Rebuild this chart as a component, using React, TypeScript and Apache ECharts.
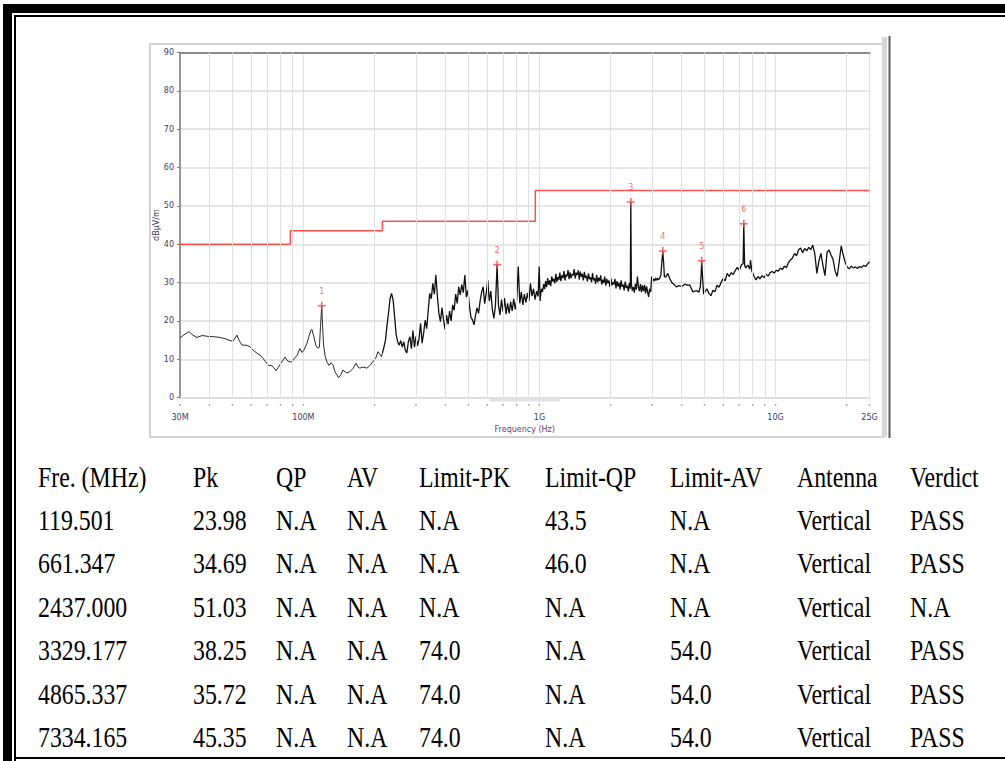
import React, { useEffect, useRef } from "react";
import * as echarts from "echarts";

// ---------- data ----------
// measured trace, [frequency in MHz, level in dBuV/m]
const trace30to216M: [number, number][] = [
  [30, 15.6], [31.2, 16.4], [32.75, 17.2], [34.05, 16.3], [35.4, 15.7], [37.18, 16.2], [39.42, 16.0],
  [41.79, 15.9], [44.31, 15.7], [46.53, 15.4], [48.37, 15.0], [50.3, 14.7], [52.3, 16.3], [53.33, 15.0],
  [54.91, 13.7], [57.09, 13.7], [59.37, 13.3], [61.13, 12.4], [63.56, 11.6], [66.09, 10.9], [68.72, 9.6],
  [70.76, 8.5], [73.57, 8.3], [75.02, 7.8], [76.49, 7.0], [78.0, 7.8], [79.54, 8.6], [81.9, 9.8],
  [83.52, 10.6], [85.15, 9.8], [86.83, 9.4], [89.42, 9.3], [91.18, 10.1], [93.88, 11.0], [96.67, 12.8],
  [98.57, 11.8], [100.5, 12.4], [103.5, 14.2], [105.5, 16.0], [107.6, 17.6], [108.7, 17.8], [110.8, 15.8],
  [113.0, 13.6], [115.2, 12.9], [116.9, 13.2], [118.1, 18.5], [119.501, 23.98], [120.5, 19.0], [121.6, 14.0],
  [123.4, 11.0], [125.8, 9.3], [128.3, 8.4], [130.8, 9.1], [133.3, 8.6], [136.0, 6.8], [138.6, 6.0],
  [140.7, 5.2], [144.2, 6.0], [147.0, 7.2], [149.9, 6.8], [152.9, 6.4], [157.4, 6.8], [162.1, 7.6],
  [166.9, 9.0], [170.2, 8.0], [173.5, 7.7], [178.7, 8.0], [185.7, 7.7], [191.3, 8.4], [197.0, 9.4],
  [202.8, 10.4], [206.8, 12.0], [210.9, 11.3], [214.0, 10.7], [216, 11.6],
];
const trace216Mto1G: [number, number][] = [
  [216, 11.6], [219.3, 13.2], [222.6, 15.0], [225.9, 18.8], [229.3, 22.0], [232.7, 25.8], [236.2, 27.2],
  [239.8, 25.5], [243.4, 21.0], [247.0, 16.5], [250.7, 14.6], [254.5, 13.7], [258.3, 14.9], [262.2, 13.2],
  [266.1, 14.6], [270.1, 12.4], [274.2, 11.7], [278.3, 14.6], [282.5, 15.9], [286.7, 12.8], [291.0, 17.5],
  [295.4, 13.2], [299.8, 16.0], [304.3, 13.5], [308.9, 15.4], [313.5, 19.4], [318.2, 14.2], [323.0, 16.8],
  [327.8, 20.2], [332.7, 18.0], [337.7, 22.6], [342.8, 27.2], [348.0, 25.8], [353.2, 29.8], [358.5, 27.0],
  [363.9, 32.0], [369.3, 26.5], [374.8, 22.0], [380.5, 19.8], [386.2, 23.5], [392.0, 20.4], [397.9, 17.8],
  [403.8, 21.5], [409.9, 19.2], [416.0, 22.6], [422.2, 20.0], [428.6, 24.2], [435.0, 22.8], [441.5, 27.0],
  [448.1, 24.6], [454.9, 28.9], [461.7, 26.8], [468.6, 29.5], [475.6, 27.4], [482.8, 32.0], [490.0, 26.2],
  [497.4, 28.0], [504.8, 24.0], [512.4, 21.0], [520.1, 20.3], [527.9, 19.0], [535.8, 21.5], [543.9, 23.4],
  [552.0, 22.0], [560.3, 25.2], [568.7, 27.5], [577.3, 28.9], [585.9, 24.5], [594.7, 27.2], [603.6, 30.7],
  [612.7, 25.2], [621.9, 27.8], [631.2, 23.0], [640.7, 20.7], [650.3, 23.8], [661.347, 34.69], [670.0, 24.2],
  [680.0, 21.6], [690.2, 25.6], [700.6, 22.4], [711.1, 26.0], [721.7, 21.8], [732.5, 24.6], [743.5, 22.0],
  [754.7, 25.0], [766.0, 22.6], [777.5, 25.8], [789.2, 23.0], [801.0, 25.5], [813.0, 34.2], [825.2, 24.6],
  [837.6, 27.6], [850.2, 24.2], [862.9, 27.0], [875.9, 24.8], [889.0, 27.3], [902.3, 25.2], [915.9, 29.8],
  [929.6, 26.5], [943.6, 28.4], [957.7, 25.6], [972.1, 27.8], [986.7, 26.4], [997.0, 34.2], [1006.7, 25.2],
];
const trace1Gto3G: [number, number][] = [
  [1010, 26.5], [1020, 28.4], [1030, 27.6], [1041, 29.6], [1051, 28.3], [1062, 30.4], [1072, 28.8],
  [1083, 31.2], [1094, 29.4], [1105, 30.6], [1116, 29.1], [1127, 31.6], [1138, 30.3], [1149, 31.0],
  [1161, 29.8], [1173, 32.3], [1184, 30.2], [1196, 31.5], [1208, 30.7], [1220, 32.6], [1232, 30.4],
  [1245, 31.9], [1257, 31.2], [1270, 33.0], [1282, 30.6], [1295, 32.1], [1308, 31.6], [1321, 33.3],
  [1335, 30.9], [1348, 32.7], [1361, 31.2], [1375, 32.2], [1389, 31.9], [1403, 33.5], [1417, 31.1],
  [1431, 32.6], [1445, 32.0], [1460, 33.2], [1474, 30.8], [1489, 32.9], [1504, 31.5], [1519, 32.3],
  [1534, 30.6], [1549, 32.8], [1565, 31.2], [1580, 31.8], [1596, 30.3], [1612, 32.4], [1628, 30.9],
  [1645, 31.4], [1661, 30.1], [1678, 32.5], [1694, 30.6], [1711, 31.2], [1729, 29.7], [1746, 32.0],
  [1763, 30.1], [1781, 31.3], [1799, 30.4], [1817, 31.9], [1835, 29.5], [1853, 30.8], [1872, 29.9],
  [1890, 31.6], [1909, 29.2], [1928, 31.0], [1948, 29.8], [1967, 30.6], [1987, 28.9], [2007, 31.1],
  [2027, 29.3], [2047, 30.1], [2068, 29.5], [2088, 31.0], [2109, 28.5], [2130, 30.4], [2152, 29.0],
  [2173, 30.0], [2195, 28.2], [2217, 30.6], [2239, 28.9], [2261, 29.5], [2284, 28.0], [2307, 30.3],
  [2330, 28.6], [2353, 29.2], [2377, 27.7], [2400, 29.9], [2424, 28.4], [2437, 51.03], [2450, 29.6],
  [2474, 27.9], [2498, 28.8], [2523, 27.4], [2548, 29.7], [2573, 28.2], [2599, 31.6], [2625, 28.9],
  [2651, 27.8], [2678, 29.6], [2704, 27.5], [2731, 29.3], [2759, 27.8], [2786, 29.4], [2814, 27.2],
  [2842, 29.0], [2871, 27.6], [2899, 26.3], [2928, 28.4], [2958, 27.6], [2987, 31.6],
];
const trace3Gto25G: [number, number][] = [
  [3017, 30.3], [3047, 31.0], [3078, 30.4], [3109, 31.2], [3140, 30.6], [3171, 31.1], [3203, 30.8],
  [3235, 31.3], [3267, 32.0], [3300, 35.5], [3329.177, 38.25], [3356.9, 35.0], [3382.8, 31.5], [3429.3, 31.5],
  [3496.9, 32.4], [3565.9, 31.0], [3636.1, 30.0], [3707.8, 29.6], [3799.1, 28.9], [3892.9, 29.2], [4008.5, 29.0],
  [4127.7, 29.6], [4249.9, 29.3], [4333.7, 29.4], [4397.4, 28.5], [4462.4, 27.6], [4550.4, 27.8], [4639.7, 27.9],
  [4731.1, 27.5], [4801.0, 29.0], [4838.3, 32.0], [4865.337, 35.72], [4910.0, 31.0], [4958.2, 27.0],
  [5016, 27.5], [5116, 28.4], [5219, 27.2], [5323, 26.6], [5430, 28.0], [5538, 27.6], [5649, 29.3],
  [5762, 28.8], [5877, 30.0], [5995, 31.1], [6115, 30.5], [6237, 32.4], [6362, 31.6], [6489, 32.6],
  [6619, 32.1], [6751, 33.2], [6886, 34.0], [7024, 33.2], [7164, 34.6], [7287, 35.0], [7334.165, 45.35],
  [7395, 34.5], [7480, 33.8], [7630, 34.6], [7782, 33.5], [7830, 35.9], [7938, 33.0], [8097, 31.8],
  [8259, 30.7], [8424, 31.6], [8592, 31.0], [8764, 31.8], [8939, 31.3], [9118, 32.2], [9300, 31.7],
  [9486, 32.6], [9676, 32.9], [9870, 32.5], [10067, 33.2], [10269, 33.0], [10474, 33.8], [10684, 33.4],
  [10897, 34.3], [11115, 33.9], [11337, 35.2], [11564, 35.9], [11795, 36.4], [12031, 37.6], [12272, 37.0],
  [12517, 38.6], [12768, 39.0], [13023, 37.8], [13283, 38.9], [13549, 38.3], [13820, 39.2], [14097, 38.6],
  [14379, 39.8], [14666, 37.5], [14960, 32.4], [15259, 35.6], [15564, 37.6], [15875, 34.5], [16193, 31.8],
  [16517, 37.9], [16847, 38.5], [17184, 37.2], [17528, 36.0], [17878, 33.0], [18236, 31.6], [18601, 35.4],
  [18973, 39.6], [19352, 37.2], [19739, 35.2], [20134, 34.0], [20537, 33.6], [20947, 34.3], [21366, 33.8],
  [21794, 34.1], [22230, 33.7], [22674, 34.2], [23128, 33.9], [23590, 34.5], [24062, 34.2], [24543, 34.9],
  [25000, 35.5],
];

const limitFreq = [30, 88, 88, 216, 216, 960, 960, 25000];
const limitLevel = [40, 40, 43.5, 43.5, 46, 46, 54, 54];

const markerFreq = [119.501, 661.347, 2437.0, 3329.177, 4865.337, 7334.165];
const markerPk = [23.98, 34.69, 51.03, 38.25, 35.72, 45.35];
const markerQP = ["N.A", "N.A", "N.A", "N.A", "N.A", "N.A"];
const markerAV = ["N.A", "N.A", "N.A", "N.A", "N.A", "N.A"];
const limitPK = ["N.A", "N.A", "N.A", "74.0", "74.0", "74.0"];
const limitQP = ["43.5", "46.0", "N.A", "N.A", "N.A", "N.A"];
const limitAV = ["N.A", "N.A", "N.A", "54.0", "54.0", "54.0"];
const antenna = ["Vertical", "Vertical", "Vertical", "Vertical", "Vertical", "Vertical"];
const verdict = ["PASS", "PASS", "N.A", "PASS", "PASS", "PASS"];
const tableHeader = ["Fre. (MHz)", "Pk", "QP", "AV", "Limit-PK", "Limit-QP", "Limit-AV", "Antenna", "Verdict"];

const xTickLabels: Record<number, string> = { 30: "30M", 100: "100M", 1000: "1G", 10000: "10G", 25000: "25G" };
const minorGridFreq = [
  40, 50, 60, 70, 80, 90, 200, 300, 400, 500, 600, 700, 800, 900,
  2000, 3000, 4000, 5000, 6000, 7000, 8000, 9000, 20000,
];
const tickDotFreq = [30, 40, 50, 60, 70, 80, 90, 100, 200, 300, 400, 500, 600, 700, 800, 900, 1000,
  2000, 3000, 4000, 5000, 6000, 7000, 8000, 9000, 10000, 20000, 25000];

// ---------- layout ----------
const GRID = { left: 180, top: 52.5, width: 689.5, height: 345.2 };
const colLeft = [38, 193, 276, 347, 419, 545, 670, 797, 910];
const rowCenter = [477, 520, 563, 607, 650, 694, 737];

export default function App() {
  const ref = useRef<HTMLDivElement>(null);

  useEffect(() => {
    if (!ref.current) return;
    const chart = echarts.init(ref.current, null, { renderer: "svg" });
    const axisTextColor = "#3d3d66";
    const gridColor = "#e0e0e0";
    const traceHigh = [...trace216Mto1G, ...trace1Gto3G, ...trace3Gto25G];
    const option: any = {
      animation: false,
      grid: { left: GRID.left, top: GRID.top, width: GRID.width, height: GRID.height, containLabel: false },
      xAxis: [
        {
          type: "log",
          logBase: 10,
          min: 30,
          max: 25000,
          name: "Frequency (Hz)",
          nameLocation: "middle",
          nameGap: 28,
          nameMoveOverlap: false,
          nameTextStyle: { fontSize: 8, color: "#6a3d7a", fontFamily: "DejaVu Sans" },
          axisLine: { show: true, lineStyle: { color: "#dcdcdc", width: 1.5 } },
          axisTick: { show: false },
          axisLabel: {
            show: true,
            showMinLabel: true,
            showMaxLabel: true,
            fontSize: 8,
            margin: 16,
            color: axisTextColor,
            fontFamily: "DejaVu Sans",
            formatter: (v: number) => xTickLabels[Math.round(v)] ?? "",
          },
          splitLine: { show: true, lineStyle: { color: gridColor, width: 1 } },
        },
        {
          type: "log",
          logBase: 10,
          min: 30,
          max: 25000,
          position: "top",
          axisLine: { show: true, lineStyle: { color: "#8a8a8a", width: 2 } },
          axisTick: { show: false },
          axisLabel: { show: false },
          splitLine: { show: false },
        },
      ],
      yAxis: {
        type: "value",
        min: 0,
        max: 90,
        interval: 10,
        name: "dBμV/m",
        nameLocation: "middle",
        nameGap: 20,
        nameMoveOverlap: false,
        nameRotate: 90,
        nameTextStyle: { fontSize: 8, color: axisTextColor, fontFamily: "DejaVu Sans" },
        axisLine: { show: true, lineStyle: { color: "#7a7a7a", width: 1.5 } },
        axisTick: { show: true, length: 3, lineStyle: { color: "#7a7a7a" } },
        axisLabel: { fontSize: 8, margin: 6, color: axisTextColor, fontFamily: "DejaVu Sans" },
        splitLine: { show: true, lineStyle: { color: "#dcdcdc", width: 1.5 } },
      },
      series: [
        {
          type: "line",
          name: "grid",
          data: [],
          silent: true,
          markLine: {
            silent: true,
            symbol: ["none", "none"],
            label: { show: false },
            lineStyle: { color: gridColor, width: 1, type: "solid" },
            data: minorGridFreq.map((f) => ({ xAxis: f })),
          },
        },
        {
          type: "scatter",
          name: "tickDots",
          silent: true,
          clip: false,
          symbol: "rect",
          symbolSize: [1.5, 1.5],
          itemStyle: { color: "#777" },
          data: tickDotFreq.map((f) => [f, -1.9]),
        },
        {
          type: "line",
          name: "Limit",
          showSymbol: false,
          symbol: "none",
          lineStyle: { color: "#ff5050", width: 1.5 },
          data: limitFreq.map((f, i) => [f, limitLevel[i]]),
          z: 3,
        },
        {
          type: "line",
          name: "Trace",
          showSymbol: false,
          symbol: "none",
          lineStyle: { color: "#2a2a2a", width: 1 },
          data: trace30to216M,
          z: 4,
        },
        {
          type: "line",
          name: "Trace ",
          showSymbol: false,
          symbol: "none",
          lineStyle: { color: "#111", width: 1.3 },
          data: traceHigh,
          z: 4,
        },
        {
          type: "scatter",
          name: "Markers",
          symbol: "path://M2,0h1v2h2v1h-2v2h-1v-2h-2v-1h2z",
          symbolSize: 8,
          itemStyle: { color: "#ff4040" },
          label: {
            show: true,
            position: "top",
            distance: 6,
            fontSize: 8,
            color: "#ff4040",
            fontFamily: "DejaVu Sans",
            formatter: (p: any) => String(p.dataIndex + 1),
          },
          data: markerFreq.map((f, i) => [f, markerPk[i]]),
          z: 5,
        },
      ],
      graphic: [
        // outer page border
        { type: "rect", shape: { x: 3, y: 4, width: 1010, height: 9 }, style: { fill: "#000" } },
        { type: "rect", shape: { x: 3, y: 4, width: 9, height: 760 }, style: { fill: "#000" } },
        { type: "rect", shape: { x: 14, y: 15, width: 1000, height: 2 }, style: { fill: "#000" } },
        { type: "rect", shape: { x: 14, y: 15, width: 2, height: 746 }, style: { fill: "#000" } },
        { type: "rect", shape: { x: 14, y: 757, width: 1000, height: 2 }, style: { fill: "#000" } },
        // chart panel frame
        { type: "rect", shape: { x: 150, y: 44, width: 734, height: 393 }, style: { fill: "none", stroke: "#d2d2d2", lineWidth: 2 } },
        { type: "rect", shape: { x: 882, y: 37, width: 5, height: 400 }, style: { fill: "#d6d6d6" } },
        { type: "line", shape: { x1: 889.5, y1: 36, x2: 889.5, y2: 438 }, style: { stroke: "#5a5a5a", lineWidth: 2 } },
        { type: "rect", shape: { x: 490, y: 398.5, width: 70, height: 3 }, style: { fill: "#e2e2e2" } },
      ],
    };
    chart.setOption(option);
    return () => chart.dispose();
  }, []);

  const rows: string[][] = markerFreq.map((f, i) => [
    f.toFixed(3),
    markerPk[i].toFixed(2),
    markerQP[i],
    markerAV[i],
    limitPK[i],
    limitQP[i],
    limitAV[i],
    antenna[i],
    verdict[i],
  ]);
  const allRows = [tableHeader, ...rows];

  return (
    <div style={{ position: "absolute", left: 0, top: 0, width: 1005, height: 761, background: "#fff", overflow: "hidden" }}>
      <div ref={ref} style={{ position: "absolute", left: 0, top: 0, width: 1005, height: 761 }} />
      {allRows.map((row, r) =>
        row.map((cell, c) => (
          <div
            key={r + "-" + c}
            style={{
              position: "absolute",
              left: colLeft[c],
              top: rowCenter[r] - 15,
              height: 30,
              lineHeight: "30px",
              fontFamily: "'Liberation Serif', 'Times New Roman', serif",
              fontSize: 23.8,
              color: "#000",
              whiteSpace: "nowrap",
              transform: "scaleY(1.2)",
              transformOrigin: "left center",
            }}
          >
            {cell}
          </div>
        ))
      )}
    </div>
  );
}
